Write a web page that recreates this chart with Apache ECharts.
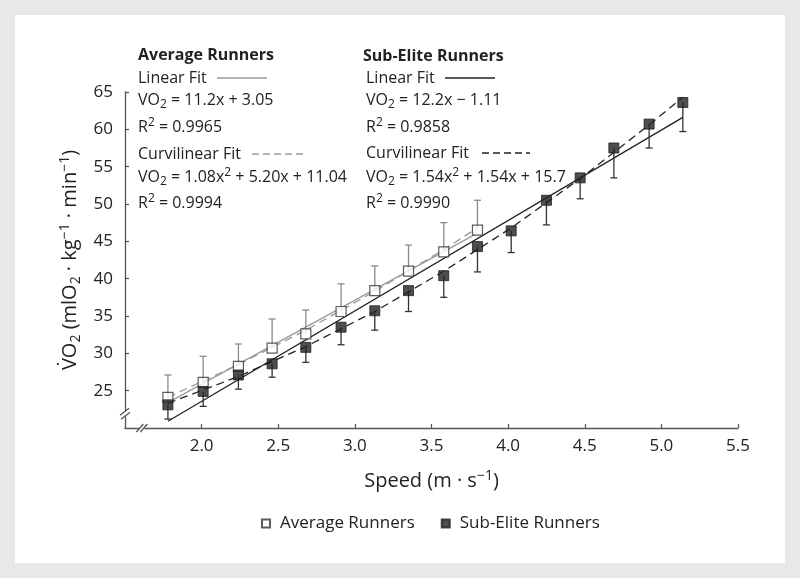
<!DOCTYPE html>
<html><head><meta charset="utf-8">
<script src="https://cdn.jsdelivr.net/npm/echarts@6/dist/echarts.min.js"></script>
<style>html,body{margin:0;padding:0;background:#fff}#c{width:800px;height:578px}</style>
</head><body><div id="c"></div>
<script>
// ---- data ----
const avgSpeed   = [1.78, 2.01, 2.24, 2.46, 2.68, 2.91, 3.13, 3.35, 3.58, 3.80];
const avgMean    = [24.1, 26.1, 28.25, 30.7, 32.6, 35.6, 38.4, 41.0, 43.6, 46.5];
const avgSDTop   = [27.1, 29.6, 31.25, 34.6, 35.8, 39.3, 41.7, 44.5, 47.5, 50.5];

const eliteSpeed = [1.78, 2.01, 2.24, 2.46, 2.68, 2.91, 3.13, 3.35, 3.58, 3.80, 4.02, 4.25, 4.47, 4.69, 4.92, 5.14];
const eliteMean  = [23.1, 24.9, 27.1, 28.6, 30.8, 33.5, 35.7, 38.4, 40.4, 44.3, 46.4, 50.5, 53.5, 57.5, 60.7, 63.6];
const eliteSDBot = [21.2, 22.9, 25.2, 26.8, 28.8, 31.15, 33.1, 35.6, 37.5, 40.9, 43.5, 47.2, 50.7, 53.5, 57.5, 59.7];

const avgLinX    = [1.78, 3.80];
const avgLinY    = [23.4, 46.1];
const avgCurX    = [1.78, 2.24, 2.68, 3.13, 3.58, 3.80];
const avgCurY    = [24.1, 28.5, 33.1, 38.3, 43.9, 46.8];
const eliteLinX  = [1.78, 5.14];
const eliteLinY  = [20.9, 61.6];
const eliteCurX  = [1.78, 2.24, 2.68, 3.13, 3.58, 4.02, 4.47, 4.92, 5.14];
const eliteCurY  = [23.3, 26.9, 30.9, 35.6, 41.0, 46.8, 53.4, 60.6, 64.3];

const xTicks = [2.0, 2.5, 3.0, 3.5, 4.0, 4.5, 5.0, 5.5];
const yTicks = [25, 30, 35, 40, 45, 50, 55, 60, 65];

const seriesNames = ['Average Runners', 'Sub-Elite Runners'];

// ---- helpers ----
const FONT = 'Open Sans';
const TXT = '#222';
const zip = (a, b) => a.map((v, i) => [v, b[i]]);

function errorBars(xs, means, ends, color) {
  return {
    type: 'custom', silent: true, clip: false, z: 3,
    data: xs.map((x, i) => [x, means[i], ends[i]]),
    encode: { x: 0, y: [1, 2] },
    renderItem: (params, api) => {
      const p0 = api.coord([api.value(0), api.value(1)]);
      const p1 = api.coord([api.value(0), api.value(2)]);
      const w = 3.5;
      return { type: 'group', children: [
        { type: 'line', shape: { x1: p0[0], y1: p0[1], x2: p1[0], y2: p1[1] }, style: { stroke: color, lineWidth: 1.3 } },
        { type: 'line', shape: { x1: p1[0] - w, y1: p1[1], x2: p1[0] + w, y2: p1[1] }, style: { stroke: color, lineWidth: 1.3 } }
      ]};
    }
  };
}
function fitLine(xs, ys, color, type, width) {
  return {
    type: 'line', data: zip(xs, ys), showSymbol: false, silent: true, z: 2,
    lineStyle: { color: color, type: type, width: width }
  };
}

const richAnn = {
  sub: { fontSize: 12, fontFamily: FONT, fill: TXT, padding: [9, 0, 0, 0] },
  sup: { fontSize: 12, fontFamily: FONT, fill: TXT, padding: [0, 0, 9, 0] },
  b:   { fontSize: 16, fontFamily: FONT, fill: TXT }
};
function ann(x, y, text, bold) {
  return { type: 'text', x: x, y: y, z: 10, style: {
    text: text, fill: TXT, fontSize: 16, fontFamily: FONT, fontWeight: bold ? 'bold' : 'normal',
    align: 'left', verticalAlign: 'middle', rich: richAnn } };
}
function seg(x1, y1, x2, y2, color, dash) {
  return { type: 'line', z: 10, shape: { x1, y1, x2, y2 }, style: { stroke: color, lineWidth: 1.3, lineDash: dash || null } };
}

const baseGraphic = [
  { type: 'rect', z: -10, shape: { x: 15, y: 15, width: 770, height: 548 }, style: { fill: '#fff' } },
  ann(138, 55, 'Average Runners', true),
  ann(138, 78, 'Linear Fit'),
  seg(217, 78, 267, 78, '#9a9a9a'),
  ann(138, 100, 'VO{sub|2}{b| = 11.2x + 3.05}'),
  ann(138, 127, 'R{sup|2}{b| = 0.9965}'),
  ann(138, 154, 'Curvilinear Fit'),
  seg(252, 154, 303, 154, '#9a9a9a', [7, 4]),
  ann(138, 177, 'VO{sub|2}{b| = 1.08x}{sup|2}{b| + 5.20x + 11.04}'),
  ann(138, 203, 'R{sup|2}{b| = 0.9994}'),

  ann(363, 56, 'Sub-Elite Runners', true),
  ann(366, 78, 'Linear Fit'),
  seg(445, 78, 495, 78, '#222'),
  ann(366, 100, 'VO{sub|2}{b| = 12.2x \u2212 1.11}'),
  ann(366, 127, 'R{sup|2}{b| = 0.9858}'),
  ann(366, 153, 'Curvilinear Fit'),
  seg(482, 153, 530, 153, '#222', [7, 4]),
  ann(366, 177, 'VO{sub|2}{b| = 1.54x}{sup|2}{b| + 1.54x + 15.7}'),
  ann(366, 203, 'R{sup|2}{b| = 0.9990}')
];

const chart = echarts.init(document.getElementById('c'), null, { renderer: 'canvas' });
const option = {
  backgroundColor: '#e8e8e8',
  animation: false,
  textStyle: { fontFamily: FONT, color: TXT },
  grid: { left: 125, right: 62, top: 92, bottom: 150 },
  legend: {
    data: seriesNames, top: 510, left: 256, icon: 'rect', itemWidth: 8, itemHeight: 8,
    itemGap: 26, textStyle: { fontSize: 17, color: TXT, fontFamily: FONT, padding: [0, 0, 0, 5] }
  },
  xAxis: {
    type: 'value', min: 1.5, max: 5.5, interval: 0.5,
    name: 'Speed (m \u00b7 s{p|\u22121})', nameLocation: 'middle', nameGap: 41,
    nameTextStyle: { fontSize: 20, color: TXT, fontFamily: FONT,
      rich: { p: { fontSize: 14, padding: [0, 0, 10, 0], fontFamily: FONT, color: TXT } } },
    axisLine: { onZero: false, lineStyle: { color: '#555', width: 1.3 } },
    axisTick: { inside: true, length: 4, customValues: xTicks, lineStyle: { color: '#555', width: 1.2 } },
    axisLabel: { customValues: xTicks, fontSize: 17, color: TXT, margin: 10, formatter: v => v.toFixed(1) },
    splitLine: { show: false }
  },
  yAxis: {
    type: 'value', min: 20, max: 65, interval: 5,
    name: 'V\u0307O{s|2}{b| (mlO}{s|2}{b| \u00b7 kg}{p|\u22121}{b| \u00b7 min}{p|\u22121}{b|)}',
    nameLocation: 'middle', nameGap: 36,
    nameTextStyle: { fontSize: 20, color: TXT, fontFamily: FONT,
      rich: {
        b: { fontSize: 20, fontFamily: FONT, color: TXT },
        s: { fontSize: 14, padding: [11, 0, 0, 0], fontFamily: FONT, color: TXT },
        p: { fontSize: 14, padding: [0, 0, 11, 0], fontFamily: FONT, color: TXT }
      } },
    axisLine: { onZero: false, lineStyle: { color: '#555', width: 1.3 } },
    axisTick: { inside: true, length: 4, customValues: yTicks, lineStyle: { color: '#555', width: 1.2 } },
    axisLabel: { customValues: yTicks, fontSize: 17, color: TXT, margin: 12 },
    splitLine: { show: false }
  },
  graphic: baseGraphic,
  series: [
    fitLine(avgLinX, avgLinY, '#9a9a9a', 'solid', 1.3),
    fitLine(avgCurX, avgCurY, '#9a9a9a', [8, 5], 1.3),
    fitLine(eliteLinX, eliteLinY, '#222', 'solid', 1.3),
    fitLine(eliteCurX, eliteCurY, '#222', [8, 5], 1.3),
    errorBars(avgSpeed, avgMean, avgSDTop, '#8a8a8a'),
    errorBars(eliteSpeed, eliteMean, eliteSDBot, '#333'),
    { name: seriesNames[0], type: 'scatter', symbol: 'rect', symbolSize: 10, z: 5,
      data: zip(avgSpeed, avgMean),
      itemStyle: { color: '#fff', borderColor: '#333', borderWidth: 1.2 } },
    { name: seriesNames[1], type: 'scatter', symbol: 'rect', symbolSize: 10, z: 6,
      data: zip(eliteSpeed, eliteMean),
      itemStyle: { color: '#222', borderColor: '#222', borderWidth: 1 } }
  ]
};
chart.setOption(option);

// axis break marks, placed through the axis scales
const yb = chart.convertToPixel({ gridIndex: 0 }, [1.5, 21.9]);
const xb = chart.convertToPixel({ gridIndex: 0 }, [1.61, 20]);
const breaks = [
  { type: 'rect', z: 11, shape: { x: yb[0] - 2, y: yb[1] - 2.5, width: 4, height: 5 }, style: { fill: '#fff' } },
  seg(yb[0] - 5, yb[1] + 1.5, yb[0] + 4, yb[1] - 5.5, '#555'),
  seg(yb[0] - 4, yb[1] + 5.5, yb[0] + 5, yb[1] - 1.5, '#555'),
  { type: 'rect', z: 11, shape: { x: xb[0] - 2.5, y: xb[1] - 2, width: 5, height: 4 }, style: { fill: '#fff' } },
  seg(xb[0] - 5.5, xb[1] + 4, xb[0] + 1.5, xb[1] - 4, '#555'),
  seg(xb[0] - 1.5, xb[1] + 4, xb[0] + 5.5, xb[1] - 4, '#555')
];
breaks.forEach(b => { b.z = 12; });
chart.setOption({ graphic: baseGraphic.concat(breaks) }, { replaceMerge: ['graphic'] });
</script></body></html>
